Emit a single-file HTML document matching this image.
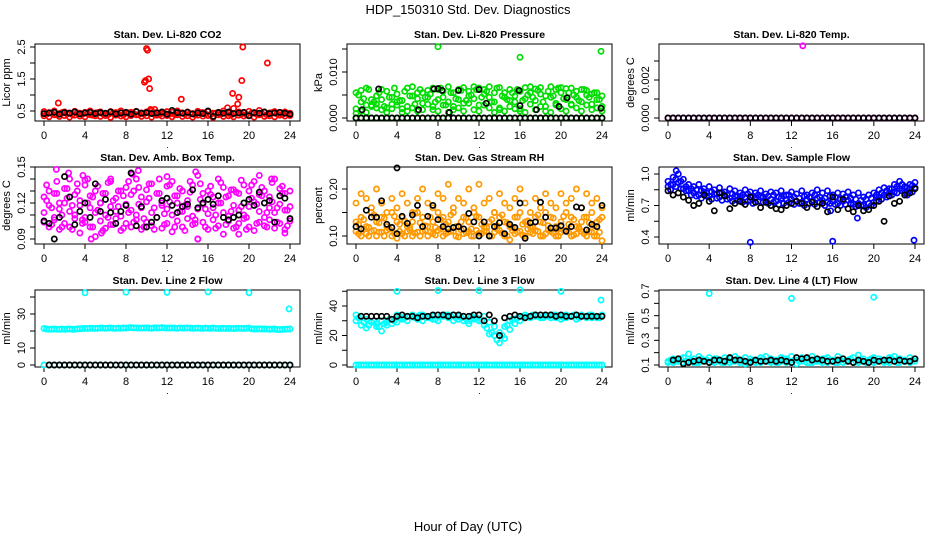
<!DOCTYPE html>
<html><head><meta charset="utf-8"><style>
html,body{margin:0;padding:0;background:#fff}
svg{display:block;font-family:"Liberation Sans",Arial,sans-serif}
</style></head><body>
<svg id="chart" width="936" height="540" viewBox="0 0 936 540" xmlns="http://www.w3.org/2000/svg">
<text x="468" y="14" text-anchor="middle" font-size="13">HDP_150310  Std. Dev. Diagnostics</text>
<text x="468" y="531" text-anchor="middle" font-size="13">Hour of Day (UTC)</text>
</svg>
<script>
const H=[0,0.5,1,1.5,2,2.5,3,3.5,4,4.5,5,5.5,6,6.5,7,7.5,8,8.5,9,9.5,10,10.5,11,11.5,12,12.5,13,13.5,14,14.5,15,15.5,16,16.5,17,17.5,18,18.5,19,19.5,20,20.5,21,21.5,22,22.5,23,23.5,24];
const H2=[0.25,0.75,1.25,1.75,2.25,2.75,3.25,3.75,4.25,4.75,5.25,5.75,6.25,6.75,7.25,7.75,8.25,8.75,9.25,9.75,10.25,10.75,11.25,11.75,12.25,12.75,13.25,13.75,14.25,14.75,15.25,15.75,16.25,16.75,17.25,17.75,18.25,18.75,19.25,19.75,20.25,20.75,21.25,21.75,22.25,22.75,23.25,23.75];
const Z=[0,0,0,0,0,0,0,0,0,0,0,0,0,0,0,0,0,0,0,0,0,0,0,0,0,0,0,0,0,0,0,0,0,0,0,0,0,0,0,0,0,0,0,0,0,0,0,0,0];
const xTicks=[0,4,8,12,16,20,24];
// P1 CO2
const co2A=[0.48,0.45,0.5,0.42,0.47,0.44,0.49,0.43,0.46,0.5,0.44,0.47,0.42,0.48,0.45,0.5,0.43,0.46,0.49,0.44,0.47,0.52,0.45,0.43,0.48,0.46,0.5,0.44,0.47,0.42,0.49,0.45,0.48,0.43,0.46,0.5,0.44,0.58,0.47,0.45,0.49,0.43,0.52,0.46,0.44,0.48,0.45,0.47,0.43];
const co2B=[0.35,0.32,0.38,0.33,0.36,0.31,0.37,0.34,0.32,0.38,0.35,0.33,0.36,0.3,0.37,0.34,0.32,0.36,0.38,0.33,0.35,0.31,0.37,0.34,0.36,0.32,0.38,0.33,0.35,0.31,0.37,0.34,0.36,0.3,0.38,0.33,0.35,0.32,0.37,0.34,0.36,0.31,0.38,0.33,0.35,0.32,0.37,0.34,0.36];
const co2C=[0.4,0.43,0.38,0.45,0.41,0.39,0.44,0.4,0.42,0.37,0.45,0.41,0.39,0.43,0.4,0.38,0.44,0.42,0.39,0.41,0.45,0.4,0.38,0.43,0.41,0.39,0.44,0.4,0.42,0.38,0.45,0.41,0.39,0.43,0.4,0.42,0.38,0.44,0.41,0.39,0.43,0.4,0.42,0.38,0.45,0.41,0.39,0.42];
const co2K=[0.42,0.44,0.46,0.4,0.45,0.43,0.47,0.41,0.44,0.46,0.42,0.45,0.43,0.47,0.41,0.44,0.46,0.4,0.48,0.43,0.45,0.42,0.44,0.47,0.4,0.52,0.45,0.43,0.46,0.41,0.44,0.42,0.5,0.33,0.45,0.43,0.47,0.42,0.44,0.46,0.35,0.45,0.43,0.47,0.42,0.44,0.46,0.43,0.4];
const co2OutX=[1.4,9.8,9.9,10,10.1,10.2,10.3,13.4,18.4,19,18.9,19.3,19.4,21.8,10.4,10.8,17.9];
const co2OutY=[0.75,1.4,1.45,2.45,2.4,1.5,1.2,0.87,1.05,0.93,0.72,1.45,2.5,2.0,0.55,0.55,0.6];
// P2 pressure
const presA=[0.0055,0.006,0.0065,0.004,0.003,0.0062,0.0058,0.0045,0.0035,0.002,0.0065,0.0068,0.0042,0.0055,0.006,0.0065,0.0062,0.0045,0.0068,0.0055,0.0062,0.0066,0.0048,0.0068,0.0065,0.0062,0.0068,0.0055,0.0066,0.0045,0.0062,0.0035,0.0058,0.0066,0.0068,0.0063,0.0066,0.0048,0.0068,0.0062,0.0066,0.0064,0.0065,0.0058,0.0062,0.006,0.0052,0.0055,0.0048];
const presB=[0.002,0.0035,0.0028,0.0025,0.0048,0.004,0.0022,0.003,0.0052,0.0038,0.0015,0.0048,0.0055,0.0032,0.0045,0.0018,0.004,0.0058,0.0035,0.0025,0.004,0.0032,0.0058,0.0042,0.0028,0.0052,0.0045,0.0035,0.0022,0.0055,0.0038,0.0048,0.002,0.0042,0.0055,0.0038,0.0052,0.0025,0.0045,0.0032,0.0055,0.004,0.0028,0.0045,0.0035,0.005,0.003,0.004,0.0025];
const presC=[0.001,0.0015,0.0012,0.0028,0.0022,0.0018,0.0012,0.002,0.0028,0.0012,0.0025,0.0022,0.0015,0.0018,0.003,0.0025,0.0015,0.0028,0.0012,0.0018,0.0022,0.0015,0.0032,0.0018,0.0015,0.0028,0.0022,0.0012,0.0018,0.0015,0.0025,0.002,0.0015,0.0012,0.003,0.0018,0.0025,0.0015,0.0012,0.0028,0.002,0.0015,0.003,0.0022,0.0015,0.0028,0.0018,0.0022,0.0015];
const presD=[0.005,0.0042,0.0062,0.0035,0.0055,0.0025,0.0045,0.0065,0.0038,0.0058,0.0048,0.003,0.0062,0.0045,0.0052,0.0035,0.0065,0.0028,0.0055,0.0042,0.006,0.0038,0.005,0.0062,0.0045,0.0058,0.0035,0.0065,0.0048,0.004,0.0055,0.0062,0.0038,0.005,0.0045,0.006,0.0035,0.0058,0.0048,0.0065,0.0042,0.0055,0.005,0.0038,0.0062,0.0045,0.0055,0.004];
const presKX=[0.6,2.2,6.1,7.6,8,8.4,9.1,10,12,12.7,15.9,16,17.6,19.8,20.6,23.9];
const presKY=[0.0018,0.0063,0.0018,0.0063,0.0064,0.006,0.0012,0.006,0.0062,0.0032,0.006,0.0027,0.0018,0.0025,0.0044,0.0021];
const presOutX=[8,16,23.9];
const presOutY=[0.0155,0.0132,0.0145];
// P3 temp
const tempOutX=[13.1];
const tempOutY=[0.0038];
// P4 amb box temp
const ambA=[0.125,0.13,0.128,0.12,0.132,0.14,0.127,0.122,0.135,0.126,0.13,0.12,0.128,0.138,0.124,0.13,0.133,0.127,0.14,0.125,0.131,0.136,0.128,0.12,0.134,0.138,0.126,0.13,0.122,0.135,0.143,0.128,0.13,0.125,0.14,0.133,0.126,0.131,0.128,0.135,0.13,0.138,0.127,0.13,0.125,0.14,0.132,0.128,0.13];
const ambB=[0.112,0.118,0.108,0.115,0.12,0.113,0.11,0.118,0.108,0.116,0.112,0.12,0.11,0.117,0.113,0.109,0.119,0.114,0.11,0.116,0.121,0.112,0.108,0.118,0.115,0.11,0.12,0.113,0.117,0.109,0.115,0.119,0.111,0.116,0.12,0.112,0.109,0.118,0.114,0.11,0.117,0.121,0.113,0.108,0.116,0.112,0.119,0.114,0.117];
const ambC=[0.104,0.1,0.106,0.098,0.103,0.1,0.107,0.095,0.104,0.1,0.092,0.105,0.099,0.102,0.107,0.097,0.103,0.1,0.106,0.098,0.104,0.101,0.108,0.099,0.103,0.096,0.105,0.1,0.107,0.102,0.09,0.104,0.098,0.106,0.101,0.094,0.105,0.099,0.103,0.107,0.1,0.097,0.104,0.101,0.106,0.099,0.103,0.098,0.105];
const ambD=[0.122,0.116,0.128,0.11,0.124,0.118,0.13,0.106,0.12,0.125,0.114,0.128,0.108,0.122,0.117,0.126,0.112,0.13,0.119,0.107,0.124,0.116,0.128,0.111,0.121,0.126,0.113,0.118,0.129,0.106,0.123,0.115,0.127,0.11,0.12,0.125,0.113,0.129,0.117,0.108,0.124,0.119,0.126,0.112,0.121,0.116,0.128,0.114];
const ambE=[0.135,0.102,0.138,0.1,0.132,0.098,0.136,0.103,0.14,0.1,0.134,0.097,0.137,0.102,0.13,0.099,0.138,0.104,0.133,0.1,0.136,0.098,0.14,0.102,0.135,0.1,0.132,0.097,0.138,0.103,0.136,0.1,0.134,0.099,0.137,0.102,0.131,0.1,0.139,0.098,0.135,0.103,0.133,0.1,0.137,0.104,0.134,0.101];
const ambOutX=[1.2,3.8,4.6,5.6,9.2,15,19,21,23.5,2.4,6.5,14.8,8.6,12,4,22.2];
const ambOutY=[0.148,0.143,0.09,0.095,0.147,0.09,0.094,0.143,0.095,0.145,0.14,0.146,0.144,0.142,0.139,0.14];
const ambK=[0.105,0.103,0.09,0.108,0.142,0.125,0.102,0.113,0.12,0.108,0.136,0.113,0.123,0.112,0.103,0.113,0.118,0.145,0.101,0.117,0.1,0.104,0.108,0.122,0.124,0.118,0.112,0.117,0.119,0.131,0.116,0.12,0.123,0.119,0.126,0.108,0.106,0.108,0.11,0.12,0.123,0.118,0.129,0.12,0.122,0.104,0.126,0.124,0.107];
// P5 RH
const rhA=[0.17,0.19,0.18,0.16,0.2,0.17,0.15,0.18,0.16,0.19,0.17,0.15,0.18,0.2,0.17,0.16,0.19,0.18,0.21,0.16,0.18,0.17,0.2,0.16,0.21,0.17,0.18,0.15,0.19,0.17,0.16,0.18,0.2,0.17,0.15,0.18,0.16,0.19,0.17,0.16,0.19,0.17,0.18,0.2,0.16,0.19,0.17,0.18,0.16];
const rhB=[0.13,0.14,0.12,0.15,0.13,0.14,0.12,0.15,0.13,0.14,0.12,0.13,0.15,0.14,0.12,0.13,0.15,0.14,0.13,0.15,0.12,0.14,0.13,0.15,0.14,0.12,0.13,0.15,0.14,0.13,0.12,0.14,0.15,0.13,0.12,0.14,0.13,0.15,0.14,0.12,0.13,0.15,0.14,0.12,0.13,0.14,0.15,0.13,0.14];
const rhC=[0.11,0.1,0.105,0.11,0.1,0.108,0.112,0.1,0.095,0.105,0.11,0.1,0.108,0.11,0.1,0.105,0.112,0.1,0.108,0.11,0.098,0.105,0.11,0.1,0.106,0.11,0.1,0.108,0.112,0.1,0.092,0.105,0.11,0.1,0.108,0.112,0.1,0.105,0.11,0.1,0.108,0.112,0.1,0.105,0.11,0.1,0.108,0.1,0.09];
const rhD=[0.125,0.135,0.118,0.145,0.128,0.138,0.115,0.142,0.125,0.132,0.118,0.148,0.128,0.122,0.14,0.118,0.135,0.125,0.145,0.12,0.13,0.138,0.115,0.142,0.125,0.118,0.135,0.122,0.145,0.128,0.118,0.14,0.125,0.132,0.118,0.145,0.128,0.122,0.138,0.115,0.142,0.125,0.135,0.118,0.14,0.128,0.122,0.135];
const rhE=[0.105,0.115,0.1,0.112,0.108,0.1,0.115,0.105,0.11,0.1,0.113,0.106,0.1,0.112,0.108,0.102,0.115,0.105,0.11,0.1,0.113,0.107,0.1,0.112,0.105,0.11,0.1,0.115,0.106,0.1,0.112,0.108,0.102,0.115,0.105,0.11,0.1,0.113,0.106,0.1,0.112,0.108,0.102,0.115,0.105,0.11,0.1,0.108];
const rhK=[0.12,0.115,0.155,0.14,0.14,0.175,0.125,0.118,0.105,0.142,0.127,0.145,0.165,0.12,0.142,0.165,0.135,0.12,0.115,0.118,0.12,0.115,0.148,0.13,0.1,0.13,0.1,0.12,0.128,0.105,0.125,0.118,0.17,0.095,0.128,0.13,0.172,0.14,0.117,0.117,0.122,0.11,0.12,0.162,0.16,0.113,0.125,0.12,0.165];
const rhOutX=[4];
const rhOutY=[0.245];
// P6 sample flow
const sfA=[0.93,0.97,1.0,0.95,0.9,0.88,0.9,0.86,0.88,0.85,0.87,0.83,0.86,0.84,0.82,0.85,0.83,0.82,0.84,0.81,0.83,0.82,0.84,0.8,0.83,0.81,0.84,0.8,0.82,0.85,0.82,0.84,0.8,0.82,0.81,0.83,0.8,0.82,0.78,0.8,0.82,0.85,0.87,0.86,0.9,0.93,0.88,0.9,0.92];
const sfB=[0.88,0.9,0.92,0.86,0.84,0.82,0.8,0.83,0.79,0.81,0.78,0.8,0.77,0.79,0.76,0.78,0.75,0.77,0.78,0.75,0.76,0.74,0.77,0.75,0.76,0.74,0.73,0.76,0.74,0.77,0.75,0.73,0.74,0.72,0.74,0.75,0.71,0.72,0.7,0.72,0.73,0.78,0.8,0.82,0.83,0.86,0.82,0.85,0.87];
const sfC=[0.9,0.95,0.93,0.88,0.86,0.85,0.84,0.82,0.83,0.81,0.82,0.8,0.81,0.79,0.8,0.81,0.79,0.8,0.78,0.79,0.8,0.78,0.79,0.8,0.78,0.77,0.79,0.78,0.8,0.78,0.77,0.79,0.78,0.76,0.78,0.77,0.76,0.75,0.76,0.77,0.8,0.82,0.84,0.86,0.88,0.9,0.87,0.89];
const sfD=[0.85,0.88,0.86,0.84,0.8,0.79,0.77,0.79,0.76,0.77,0.75,0.76,0.74,0.75,0.73,0.74,0.72,0.74,0.73,0.72,0.73,0.71,0.72,0.73,0.71,0.72,0.7,0.72,0.71,0.73,0.7,0.72,0.71,0.7,0.71,0.72,0.69,0.7,0.68,0.7,0.74,0.76,0.78,0.8,0.82,0.84,0.8,0.83];
const sfK=[0.84,0.8,0.82,0.78,0.75,0.7,0.72,0.8,0.74,0.65,0.82,0.79,0.67,0.72,0.74,0.71,0.78,0.73,0.68,0.73,0.7,0.67,0.66,0.7,0.72,0.74,0.72,0.68,0.73,0.69,0.72,0.64,0.78,0.66,0.76,0.67,0.64,0.7,0.65,0.66,0.7,0.74,0.55,0.79,0.72,0.74,0.8,0.82,0.86];
const sfOutX=[8,16,23.9,18.4,0.8,15.8];
const sfOutY=[0.35,0.36,0.37,0.58,1.03,0.65];
// P7 line 2
const l2A=[21.5,21,21.2,21,21,21.2,21,21.3,21.5,21.6,21.5,21.7,21.6,21.8,21.5,21.6,21.7,22,21.8,21.7,21.8,21.6,21.8,22,21.7,21.8,21.6,21.7,21.8,21.6,21.7,21.5,21.6,21.8,21.5,21.6,21.5,21.4,21.6,21.5,21.7,21.2,21.3,21.2,21,21.2,20.8,21,21.2];
const l2B=[21.2,21.1,21,21.2,21.1,21,21.3,21.4,21.5,21.6,21.6,21.7,21.7,21.6,21.7,21.8,21.9,21.8,21.7,21.8,21.7,21.9,21.8,21.8,21.7,21.7,21.8,21.7,21.7,21.6,21.6,21.7,21.6,21.6,21.5,21.5,21.5,21.6,21.5,21.6,21.3,21.2,21.2,21.1,21.1,20.9,21,21.1];
const l2OutX=[4,8,12,16,20,23.9];
const l2OutY=[42.5,42.8,42.7,43,42.5,33];
// P8 line 3
const l3A=[34,33,31,29,28,30,27,28,29,31,33,34,33,34,32,33,34,33,32,34,31,33,30,32,34,33,29,26,22,18,24,28,33,34,32,33,34,33,34,32,33,34,33,34,33,32,34,33,33];
const l3B=[30,27,25,29,26,23,29,31,34,32,30,33,31,30,33,31,30,33,34,30,33,30,28,31,30,27,21,20,15,26,30,31,30,32,33,34,32,33,32,34,31,32,33,31,34,33,32,32,34];
const l3C=[32,29,27,30,26,28,31,30,33,32,33,32,34,33,32,31,33,34,33,32,32,31,33,32,30,25,22,17,20,27,31,32,33,33,34,33,32,33,34,33,32,33,34,32,33,34,33,32];
const l3K=[33,33,33,33,33,33,33,31,33,34,33,33,32,33,33,34,34,34,33,34,34,33,33,34,34,30,34,30,20,32,33,34,33,32,33,34,34,34,34,33,34,33,33,34,33,33,33,33,33];
const l3OutX=[4,8,12,16,20,23.9];
const l3OutY=[50,50.5,50.5,51,50,44];
// P9 line 4
const l4A=[0.13,0.15,0.14,0.16,0.19,0.15,0.17,0.14,0.16,0.15,0.14,0.16,0.15,0.17,0.14,0.16,0.15,0.14,0.16,0.17,0.15,0.14,0.16,0.15,0.17,0.14,0.16,0.15,0.17,0.14,0.15,0.16,0.14,0.17,0.15,0.14,0.16,0.18,0.15,0.14,0.16,0.15,0.14,0.16,0.17,0.15,0.14,0.16,0.15];
const l4B=[0.12,0.12,0.13,0.12,0.13,0.12,0.12,0.13,0.12,0.12,0.13,0.12,0.12,0.13,0.12,0.11,0.13,0.12,0.12,0.13,0.12,0.12,0.13,0.12,0.12,0.11,0.13,0.12,0.12,0.13,0.12,0.12,0.13,0.12,0.12,0.13,0.12,0.12,0.13,0.12,0.12,0.13,0.12,0.12,0.13,0.12,0.13,0.12,0.13];
const l4C=[0.14,0.13,0.15,0.13,0.14,0.12,0.15,0.14,0.13,0.15,0.12,0.14,0.13,0.15,0.14,0.12,0.14,0.13,0.15,0.13,0.14,0.12,0.15,0.13,0.14,0.13,0.15,0.12,0.14,0.13,0.15,0.14,0.12,0.14,0.13,0.15,0.13,0.14,0.12,0.15,0.13,0.14,0.13,0.15,0.12,0.14,0.13,0.14];
const l4K=[0.13,0.14,0.15,0.11,0.12,0.13,0.14,0.13,0.12,0.14,0.14,0.13,0.16,0.14,0.14,0.13,0.12,0.14,0.13,0.13,0.14,0.13,0.14,0.13,0.12,0.16,0.15,0.16,0.14,0.15,0.14,0.13,0.13,0.14,0.15,0.13,0.12,0.14,0.13,0.12,0.14,0.13,0.14,0.14,0.13,0.14,0.13,0.13,0.15];
const l4OutX=[4,12,20];
const l4OutY=[0.68,0.64,0.65];

const NS='http://www.w3.org/2000/svg';
const svg=document.getElementById('chart');
const COLS=[{l:35,r:300,x0:44,x24:290},{l:347,r:612,x0:356,x24:602},{l:659,r:924,x0:668,x24:915}];
const ROWS=[{t:44,b:121},{t:167,b:244},{t:290,b:367}];
function mk(tag,attrs,parent){const e=document.createElementNS(NS,tag);for(const k in attrs)e.setAttribute(k,attrs[k]);(parent||svg).appendChild(e);return e;}

function panel(cfg){
  const c=COLS[cfg.col],r=ROWS[cfg.row];
  const g=mk('g',{});
  
  
  const xs=v=>c.x0+(v/24)*(c.x24-c.x0);
  const ys=v=>cfg.p1+(v-cfg.v1)/(cfg.v2-cfg.v1)*(cfg.p2-cfg.p1);
  const box=mk('rect',{x:c.l,y:r.t,width:c.r-c.l,height:r.b-r.t,fill:'none',stroke:'#000','stroke-width':1},g);
  
  
  const t=mk('text',{x:(c.l+c.r)/2,y:r.t-6,'text-anchor':'middle','font-size':10.5,'font-weight':'bold'},g);
  t.textContent=cfg.title;
  
  
  xTicks.forEach(v=>{
    mk('line',{x1:xs(v),x2:xs(v),y1:r.b,y2:r.b+5,stroke:'#000'},g);
    const tl=mk('text',{x:xs(v),y:r.b+18,'text-anchor':'middle','font-size':11},g);
    tl.textContent=v;
    
    
  });
  mk('line',{x1:xs(0),x2:xs(24),y1:r.b,y2:r.b,stroke:'#000'},g);
  const dot=mk('text',{x:(c.l+c.r)/2,y:r.b+27,'text-anchor':'middle','font-size':9},g);
  dot.textContent='.';
  
  
  cfg.yt.forEach(v=>{mk('line',{x1:c.l-5,x2:c.l,y1:ys(v),y2:ys(v),stroke:'#000'},g);});
  mk('line',{x1:c.l,x2:c.l,y1:ys(cfg.yt[0]),y2:ys(cfg.yt[cfg.yt.length-1]),stroke:'#000'},g);
  cfg.yl.forEach((v,i)=>{
    const y=ys(v),x=c.l-10;
    const tl=mk('text',{x:x,y:y,'text-anchor':'middle','font-size':11,transform:`rotate(-90 ${x} ${y})`},g);
    tl.textContent=cfg.ylt[i];
    
    
  });
  const yx=c.l-25,yy=(r.t+r.b)/2;
  const yt=mk('text',{x:yx,y:yy,'text-anchor':'middle','font-size':11,transform:`rotate(-90 ${yx} ${yy})`},g);
  yt.textContent=cfg.ylab;
  
  
  cfg.series.forEach(s=>{
    const sg=mk('g',{fill:'none',stroke:s.color,'stroke-width':1.7},g);
    
    
    s.x.forEach((xv,i)=>{
      const p=mk('circle',{cx:xs(xv).toFixed(1),cy:ys(s.y[i]).toFixed(1),r:2.6},sg);
      
      
    });
  });
}
const RED='#ff0000',GRN='#00dd00',MAG='#ff00ff',ORG='#ff9900',BLU='#0000ff',CYN='#00ffff',BLK='#000';
panel({name:'panel-co2',col:0,row:0,title:'Stan. Dev. Li-820 CO2',ylab:'Licor ppm',v1:0.5,p1:111,v2:2.5,p2:47,yt:[0.5,1,1.5,2,2.5],yl:[0.5,1.5,2.5],ylt:['0.5','1.5','2.5'],
 series:[{name:'co2-red-a',color:RED,x:H,y:co2A},{name:'co2-red-b',color:RED,x:H,y:co2B},{name:'co2-red-c',color:RED,x:H2,y:co2C},{name:'co2-red-out',color:RED,x:co2OutX,y:co2OutY},{name:'co2-black',color:BLK,x:H,y:co2K}]});
panel({name:'panel-pressure',col:1,row:0,title:'Stan. Dev. Li-820 Pressure',ylab:'kPa',v1:0,p1:118,v2:0.01,p2:72,yt:[0,0.005,0.01,0.015],yl:[0,0.01],ylt:['0.000','0.010'],
 series:[{name:'pres-green-zero',color:GRN,x:H,y:Z},{name:'pres-green-a',color:GRN,x:H,y:presA},{name:'pres-green-b',color:GRN,x:H,y:presB},{name:'pres-green-c',color:GRN,x:H,y:presC},{name:'pres-green-d',color:GRN,x:H2,y:presD},{name:'pres-green-out',color:GRN,x:presOutX,y:presOutY},{name:'pres-black-zero',color:BLK,x:H,y:Z},{name:'pres-black',color:BLK,x:presKX,y:presKY}]});
panel({name:'panel-temp',col:2,row:0,title:'Stan. Dev. Li-820 Temp.',ylab:'degrees C',v1:0,p1:118,v2:0.002,p2:80,yt:[0,0.001,0.002,0.003],yl:[0,0.002],ylt:['0.000','0.002'],
 series:[{name:'temp-magenta',color:MAG,x:H,y:Z},{name:'temp-magenta-out',color:MAG,x:tempOutX,y:tempOutY},{name:'temp-black',color:BLK,x:H,y:Z}]});
panel({name:'panel-amb-temp',col:0,row:1,title:'Stan. Dev. Amb. Box Temp.',ylab:'degrees C',v1:0.09,p1:239,v2:0.15,p2:167,yt:[0.09,0.1,0.11,0.12,0.13,0.14,0.15],yl:[0.09,0.12,0.15],ylt:['0.09','0.12','0.15'],
 series:[{name:'amb-magenta-a',color:MAG,x:H,y:ambA},{name:'amb-magenta-b',color:MAG,x:H,y:ambB},{name:'amb-magenta-c',color:MAG,x:H,y:ambC},{name:'amb-magenta-d',color:MAG,x:H2,y:ambD},{name:'amb-magenta-e',color:MAG,x:H2,y:ambE},{name:'amb-magenta-out',color:MAG,x:ambOutX,y:ambOutY},{name:'amb-black',color:BLK,x:H,y:ambK}]});
panel({name:'panel-rh',col:1,row:1,title:'Stan. Dev. Gas Stream RH',ylab:'percent',v1:0.1,p1:236,v2:0.2,p2:189,yt:[0.1,0.15,0.2],yl:[0.1,0.2],ylt:['0.10','0.20'],
 series:[{name:'rh-orange-a',color:ORG,x:H,y:rhA},{name:'rh-orange-b',color:ORG,x:H,y:rhB},{name:'rh-orange-c',color:ORG,x:H,y:rhC},{name:'rh-orange-d',color:ORG,x:H2,y:rhD},{name:'rh-orange-e',color:ORG,x:H2,y:rhE},{name:'rh-black',color:BLK,x:H,y:rhK},{name:'rh-black-out',color:BLK,x:rhOutX,y:rhOutY}]});
panel({name:'panel-sample-flow',col:2,row:1,title:'Stan. Dev. Sample Flow',ylab:'ml/min',v1:0.4,p1:237,v2:1.0,p2:174,yt:[0.4,0.55,0.7,0.85,1.0],yl:[0.4,0.7,1.0],ylt:['0.4','0.7','1.0'],
 series:[{name:'sf-blue-a',color:BLU,x:H,y:sfA},{name:'sf-blue-b',color:BLU,x:H,y:sfB},{name:'sf-blue-c',color:BLU,x:H2,y:sfC},{name:'sf-blue-d',color:BLU,x:H2,y:sfD},{name:'sf-blue-out',color:BLU,x:sfOutX,y:sfOutY},{name:'sf-black',color:BLK,x:H,y:sfK}]});
panel({name:'panel-line2',col:0,row:2,title:'Stan. Dev. Line 2 Flow',ylab:'ml/min',v1:0,p1:365,v2:30,p2:314,yt:[0,10,20,30,40],yl:[0,10,30],ylt:['0','10','30'],
 series:[{name:'l2-cyan',color:CYN,x:H,y:l2A},{name:'l2-cyan-b',color:CYN,x:H2,y:l2B},{name:'l2-cyan-zero',color:CYN,x:H,y:Z},{name:'l2-cyan-out',color:CYN,x:l2OutX,y:l2OutY},{name:'l2-black',color:BLK,x:H.slice(1),y:Z.slice(1)}]});
panel({name:'panel-line3',col:1,row:2,title:'Stan. Dev. Line 3 Flow',ylab:'ml/min',v1:0,p1:365,v2:40,p2:306,yt:[0,10,20,30,40,50],yl:[0,20,40],ylt:['0','20','40'],
 series:[{name:'l3-cyan-a',color:CYN,x:H,y:l3A},{name:'l3-cyan-b',color:CYN,x:H,y:l3B},{name:'l3-cyan-c',color:CYN,x:H2,y:l3C},{name:'l3-cyan-zero',color:CYN,x:H,y:Z},{name:'l3-cyan-zero-b',color:CYN,x:H2,y:Z.slice(1)},{name:'l3-cyan-out',color:CYN,x:l3OutX,y:l3OutY},{name:'l3-black',color:BLK,x:H.slice(1),y:l3K.slice(1)}]});
panel({name:'panel-line4',col:2,row:2,title:'Stan. Dev. Line 4 (LT) Flow',ylab:'ml/min',v1:0.1,p1:365,v2:0.7,p2:291,yt:[0.1,0.2,0.3,0.4,0.5,0.6,0.7],yl:[0.1,0.3,0.5,0.7],ylt:['0.1','0.3','0.5','0.7'],
 series:[{name:'l4-cyan-a',color:CYN,x:H,y:l4A},{name:'l4-cyan-b',color:CYN,x:H,y:l4B},{name:'l4-cyan-c',color:CYN,x:H2,y:l4C},{name:'l4-cyan-out',color:CYN,x:l4OutX,y:l4OutY},{name:'l4-black',color:BLK,x:H.slice(1),y:l4K.slice(1)}]});
</script>
</body></html>
